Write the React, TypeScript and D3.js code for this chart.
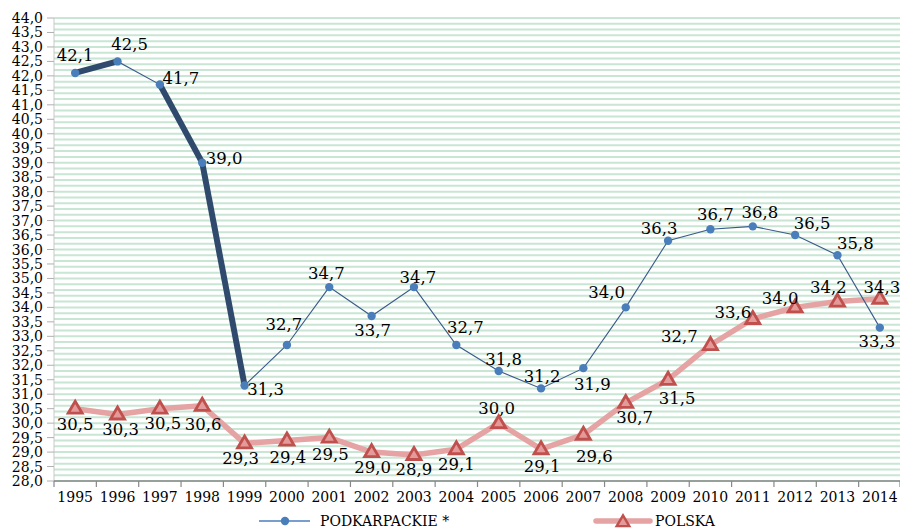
import React from "react";
import * as d3 from "d3";

const years = [1995,1996,1997,1998,1999,2000,2001,2002,2003,2004,2005,2006,2007,2008,2009,2010,2011,2012,2013,2014].map(String);
const podkarpackie = [42.1,42.5,41.7,39.0,31.3,32.7,34.7,33.7,34.7,32.7,31.8,31.2,31.9,34.0,36.3,36.7,36.8,36.5,35.8,33.3];
const polska = [30.5,30.3,30.5,30.6,29.3,29.4,29.5,29.0,28.9,29.1,30.0,29.1,29.6,30.7,31.5,32.7,33.6,34.0,34.2,34.3];
// which segments of Podkarpackie are drawn thick (segment i joins point i and i+1)
const thickSegments = [0, 2, 3];
const seriesNames = ["PODKARPACKIE *", "POLSKA"];
const yMin = 28, yMax = 44, yTickStep = 0.5, gridStep = 0.2;

// label offsets (styling): [dx, dy] of text centre relative to the marker
const podLabelOffsets: [number, number][] = [
  [0,-17],[12,-17],[21,-6],[22,-4],[21,4],[-3,-20],[-3,-14],[1,14],[4,-10],[9,-17],
  [5,-12],[1,-12],[9,16],[-19,-15],[-9,-12],[5,-15],[7,-14],[17,-12],[18,-12],[-3,14]
];
const polLabelOffsets: [number, number][] = [
  [0,16],[3,15],[3,15],[1,19],[-4,15],[1,17],[1,17],[1,15],[0,15],[0,15],
  [-2,-15],[1,17],[11,22],[9,15],[9,19],[-31,-8],[-20,-6],[-15,-9],[-9,-14],[2,-11]
];

const W = 900, H = 531;
const left = 54, right = 901, top = 18, bottom = 481;
const FONT = "'DejaVu Serif', serif";

const fmt = (v: number) => v.toFixed(1).replace(".", ",");

export default function App() {
  const x = d3.scaleBand<string>().domain(years).range([left, right]);
  const cx = (i: number) => (x(years[i]) as number) + x.bandwidth() / 2;
  const y = d3.scaleLinear().domain([yMin, yMax]).range([bottom, top]);

  const nGrid = Math.round((yMax - yMin) / gridStep);
  const grid = d3.range(nGrid + 1).map((i) => yMin + i * gridStep);
  const nTicks = Math.round((yMax - yMin) / yTickStep);
  const yTicks = d3.range(nTicks + 1).map((i) => yMin + i * yTickStep);

  const line = d3.line<number>().x((_, i) => cx(i)).y((d) => y(d));
  const polPath = line(polska) || "";
  const podPath = line(podkarpackie) || "";

  const tri = (px: number, py: number, s = 1) => {
    const w = 14 * s, h = 12 * s;
    return `M${px},${py - h * 0.62}L${px + w / 2},${py + h * 0.38}L${px - w / 2},${py + h * 0.38}Z`;
  };

  return (
    <svg width={W} height={H} style={{ position: "absolute", left: 0, top: 0, background: "#fff" }} fontFamily={FONT}>
      {grid.map((g, i) => (
        <line key={"g" + i} x1={left} x2={right} y1={y(g)} y2={y(g)} stroke="#c8e6d3" strokeWidth={2} />
      ))}
      <line x1={left} x2={left} y1={top} y2={bottom} stroke="#c8c8c8" strokeWidth={1} />
      {yTicks.map((t, i) => (
        <g key={"yt" + i}>
          <line x1={left - 7} x2={left} y1={y(t)} y2={y(t)} stroke="#b0b0b0" />
          <text x={43} y={y(t)} textAnchor="end" dominantBaseline="central" fontSize={14} fill="#000">{fmt(t)}</text>
        </g>
      ))}
      <line x1={left} x2={right} y1={bottom} y2={bottom} stroke="#888" strokeWidth={1.5} />
      {years.map((yr, i) => (
        <line key={"xt" + i} x1={x(yr) as number} x2={x(yr) as number} y1={bottom} y2={bottom + 6} stroke="#888" strokeWidth={1.2} />
      ))}
      <line x1={right - 1} x2={right - 1} y1={bottom} y2={bottom + 6} stroke="#888" strokeWidth={1.2} />
      {years.map((yr, i) => (
        <text key={"xl" + i} x={cx(i)} y={497} textAnchor="middle" dominantBaseline="central" fontSize={14} fill="#000">{yr}</text>
      ))}

      {/* POLSKA */}
      <path d={polPath} fill="none" stroke="#e6a3a3" strokeWidth={5.5} strokeLinejoin="round" />
      {polska.map((v, i) => (
        <path key={"pt" + i} d={tri(cx(i), y(v))} fill="#e49a98" stroke="#c0504d" strokeWidth={2.8} strokeLinejoin="miter" />
      ))}

      {/* PODKARPACKIE */}
      <path d={podPath} fill="none" stroke="#3a5b8c" strokeWidth={1.1} />
      {thickSegments.map((s) => (
        <path key={"ts" + s} d={line.x((_, j) => cx(s + j))([podkarpackie[s], podkarpackie[s + 1]]) || ""}
          fill="none" stroke="#2f4a6c" strokeWidth={6} strokeLinecap="butt" />
      ))}
      {podkarpackie.map((v, i) => (
        <circle key={"pc" + i} cx={cx(i)} cy={y(v)} r={4.2} fill="#4a7ebb" />
      ))}

      {podkarpackie.map((v, i) => (
        <text key={"pl" + i} x={cx(i) + podLabelOffsets[i][0]} y={y(v) + podLabelOffsets[i][1]} textAnchor="middle" dominantBaseline="central" fontSize={16.5} fill="#000">{fmt(v)}</text>
      ))}
      {polska.map((v, i) => (
        <text key={"ll" + i} x={cx(i) + polLabelOffsets[i][0]} y={y(v) + polLabelOffsets[i][1]} textAnchor="middle" dominantBaseline="central" fontSize={16.5} fill="#000">{fmt(v)}</text>
      ))}

      <line x1={259} x2={310} y1={521} y2={521} stroke="#4a7ebb" strokeWidth={1.3} />
      <circle cx={285} cy={521} r={4.2} fill="#4a7ebb" />
      <text x={320} y={521} dominantBaseline="central" fontSize={14} fill="#000">{seriesNames[0]}</text>
      <line x1={596} x2={650} y1={521} y2={521} stroke="#e6a3a3" strokeWidth={5.5} strokeLinecap="round" />
      <path d={tri(623, 522, 0.9)} fill="#e49a98" stroke="#c0504d" strokeWidth={2.4} />
      <text x={655} y={521} dominantBaseline="central" fontSize={14} fill="#000">{seriesNames[1]}</text>
    </svg>
  );
}
